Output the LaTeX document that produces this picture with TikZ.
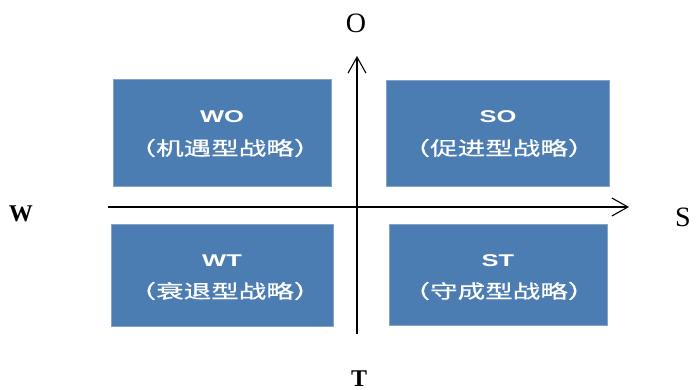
\documentclass[tikz,border=0pt]{standalone}
\usepackage{fontspec}
\usepackage{graphicx}
\setmainfont{Liberation Serif}
\newfontfamily\cjk[FakeBold=0.6]{Noto Sans CJK SC}
\newfontfamily\lat{Liberation Sans}
\usetikzlibrary{arrows.meta}
\definecolor{boxblue}{RGB}{76,125,178}
\newcommand{\hdtext}[1]{\scalebox{1.5}[1]{\lat\bfseries\fontsize{17}{19}\selectfont #1}}
\newcommand{\cntext}[1]{\scalebox{1.45}[1]{\cjk\fontsize{19}{21}\selectfont #1}}
\tikzset{
  quad/.style={fill=boxblue, draw=boxblue!70!white, line width=0.6pt, inner sep=0pt, anchor=north west},
  qtext/.style={text=white, inner sep=0pt},
  axis/.style={line width=1.1pt, -{Straight Barb[length=16pt,width=18pt,line width=1.1pt]}},
  axlabel/.style={font=\fontsize{28}{30}\selectfont, inner sep=0pt},
  axlabelb/.style={font=\bfseries\fontsize{24}{26}\selectfont, inner sep=0pt}
}
\begin{document}
\begin{tikzpicture}[x=1pt,y=-1pt]
\useasboundingbox (0,0) rectangle (696,390);
\node[quad, minimum width=218pt, minimum height=107pt] (wo) at (113,79) {};
\node[quad, minimum width=223pt, minimum height=106pt] (so) at (386,80) {};
\node[quad, minimum width=222pt, minimum height=102pt] (wt) at (111,224) {};
\node[quad, minimum width=218pt, minimum height=101pt] (st) at (389,224) {};
\node[qtext] (wo1) at (222,117) {\hdtext{WO}};
\node[qtext] (wo2) at (225,148) {\cntext{（机遇型战略）}};
\node[qtext] (so1) at (498,117) {\hdtext{SO}};
\node[qtext] (so2) at (499,148) {\cntext{（促进型战略）}};
\node[qtext] (wt1) at (222,261) {\hdtext{WT}};
\node[qtext] (wt2) at (225,291) {\cntext{（衰退型战略）}};
\node[qtext] (st1) at (498,261) {\hdtext{ST}};
\node[qtext] (st2) at (499,291) {\cntext{（守成型战略）}};
\coordinate (xl) at (108,207);
\coordinate (xr) at (629,207);
\coordinate (yb) at (357,334);
\coordinate (yt) at (357,56);
\draw[axis] (xl) -- (xr);
\draw[axis] (yb) -- (yt);
\node[axlabel, anchor=base] (o) at (356,33) {O};
\node[axlabelb, anchor=base] (w) at (21,222) {W};
\node[axlabel, anchor=base] (s) at (683,227) {S};
\node[axlabelb, anchor=base] (t) at (359,386) {T};
\end{tikzpicture}
\end{document}
